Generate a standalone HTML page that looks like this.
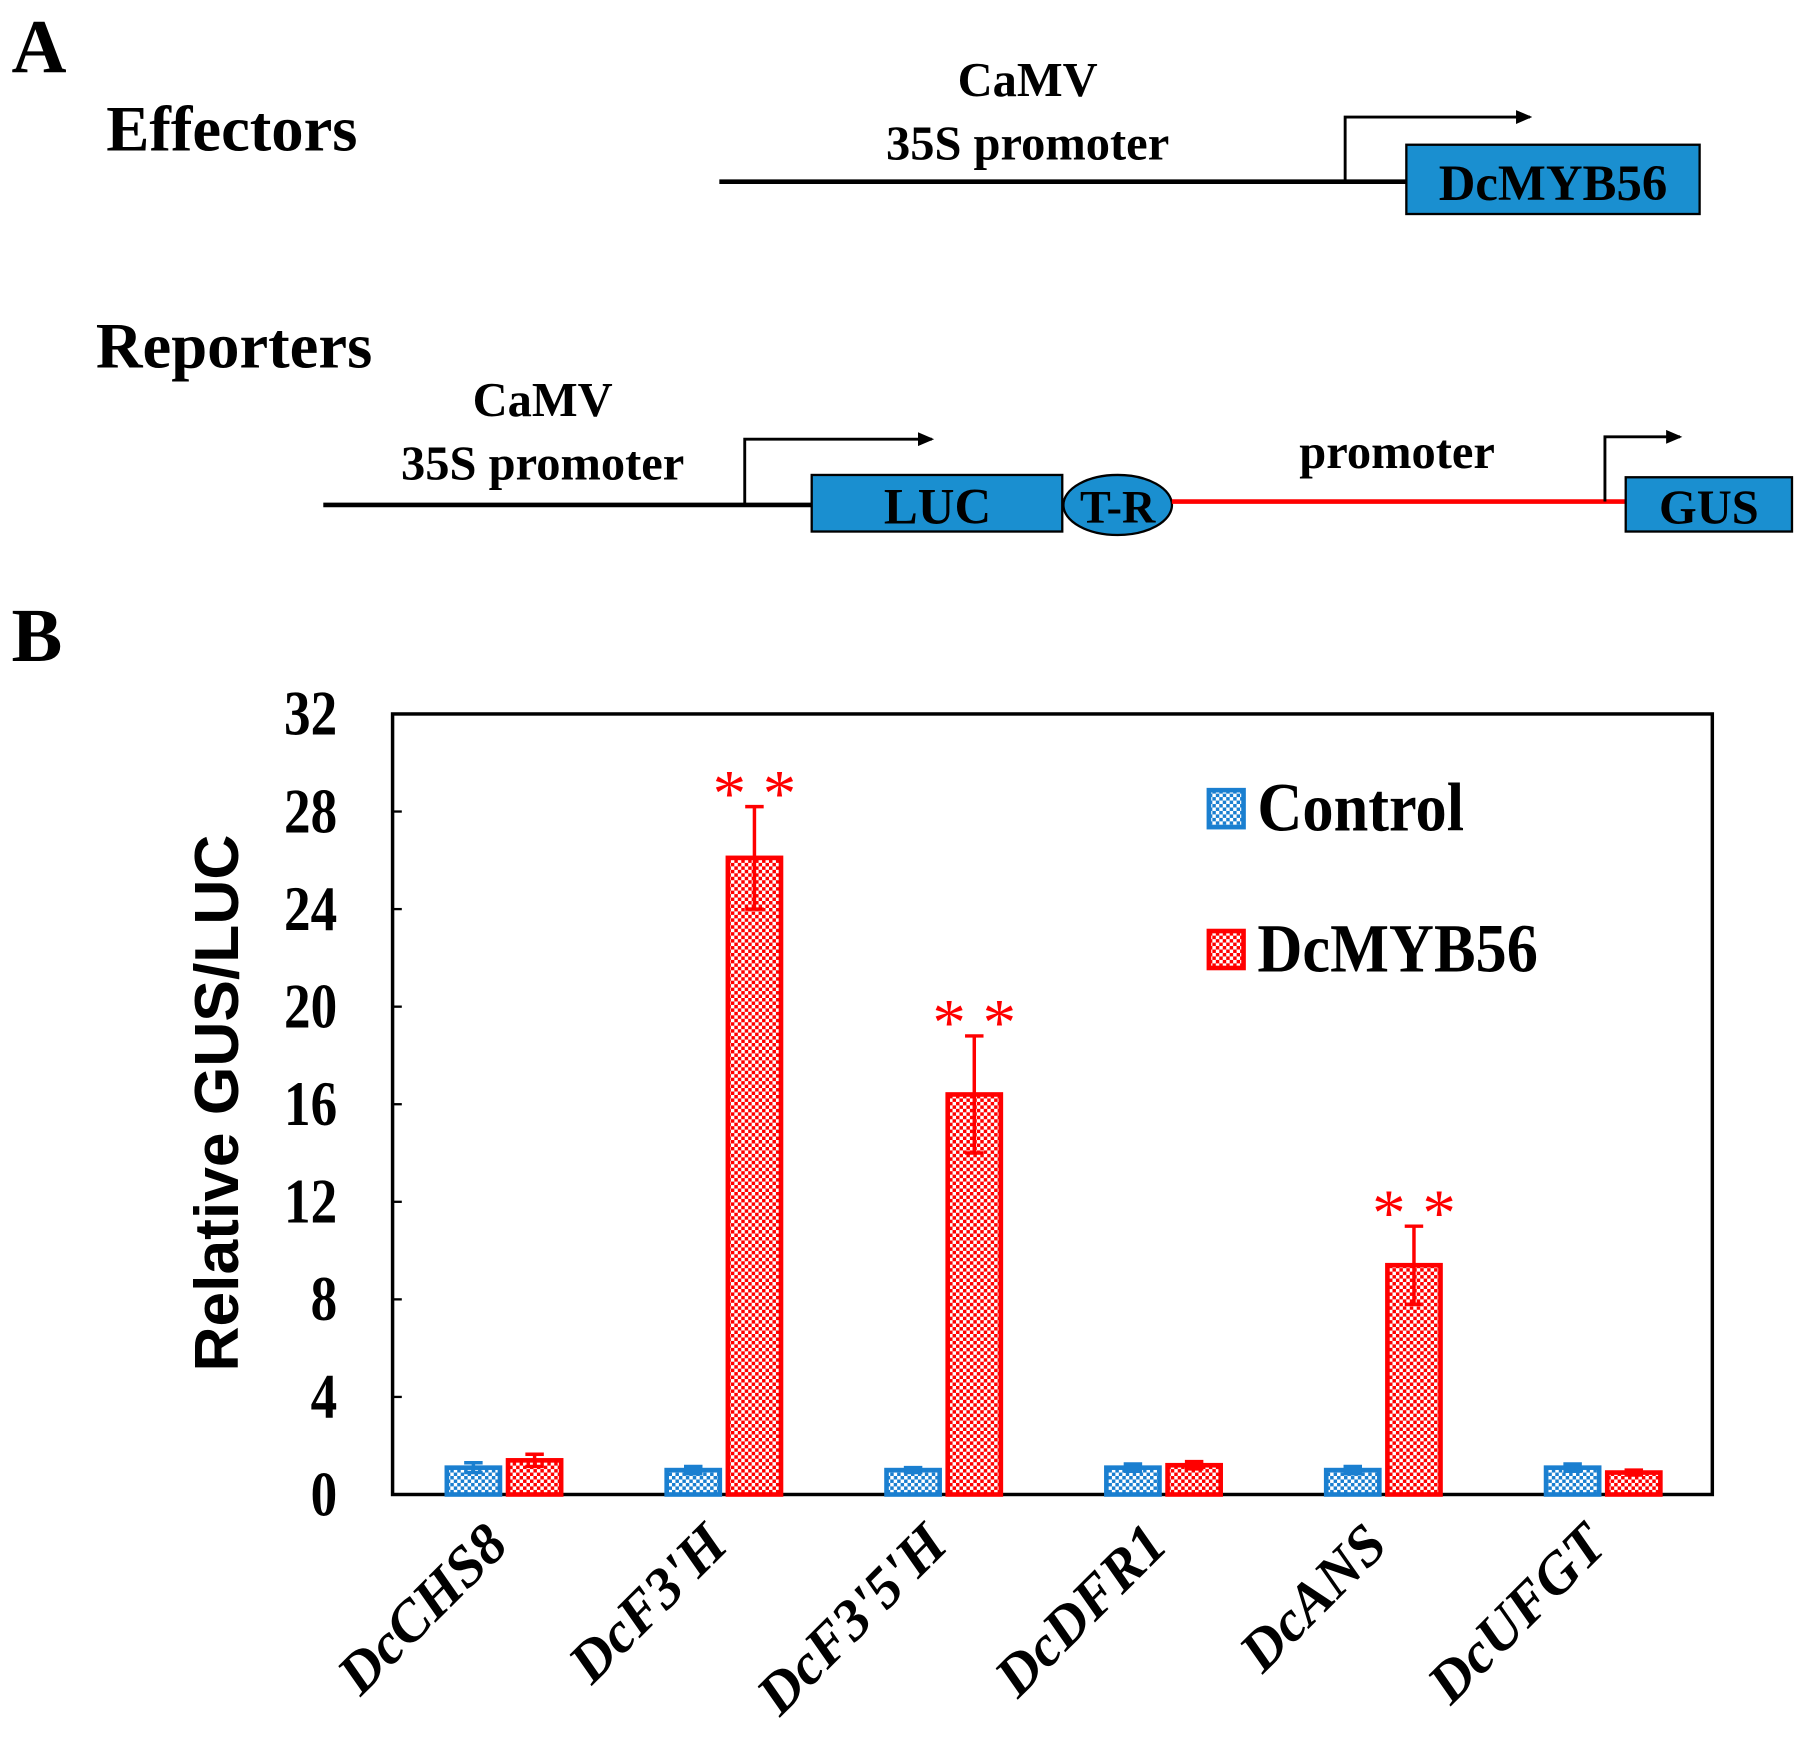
<!DOCTYPE html>
<html><head><meta charset="utf-8"><style>
html,body{margin:0;padding:0;background:#fff;}
svg{display:block;}
text{font-family:"Liberation Serif",serif;font-weight:bold;}
</style></head><body>
<svg id="fig" width="1807" height="1757" viewBox="0 0 1565 1521" xmlns="http://www.w3.org/2000/svg">
<defs>
<pattern id="pb" width="6" height="6" patternUnits="userSpaceOnUse"><rect width="6" height="6" fill="#fff"/><rect x="0" y="0" width="3" height="3" fill="#1a7fd0"/><rect x="3" y="3" width="3" height="3" fill="#1a7fd0"/></pattern>
<pattern id="pr" width="6" height="6" patternUnits="userSpaceOnUse"><rect width="6" height="6" fill="#fff"/><rect x="0" y="0" width="3" height="3" fill="#f00"/><rect x="3" y="3" width="3" height="3" fill="#f00"/></pattern>
<marker id="ah" markerWidth="14" markerHeight="12" refX="12" refY="6" orient="auto" markerUnits="userSpaceOnUse"><path d="M0,0 L14,6 L0,12 z" fill="#000"/></marker>
</defs>
<g>
<text x="10" y="62" font-size="66">A</text>
<text x="92" y="130" font-size="56">Effectors</text>
<text x="890" y="83" font-size="42" text-anchor="middle">CaMV</text>
<text x="890" y="138" font-size="42" text-anchor="middle">35S promoter</text>
<line x1="623" y1="157" x2="1218" y2="157" stroke="#000" stroke-width="4"/>
<path d="M1165,157 V101 H1325" fill="none" stroke="#000" stroke-width="2.5" marker-end="url(#ah)"/>
<rect x="1218" y="125" width="254" height="60" fill="#1a8fd0" stroke="#000" stroke-width="2"/>
<text x="1345" y="173" font-size="44" text-anchor="middle">DcMYB56</text>
<text x="83" y="318" font-size="56">Reporters</text>
<text x="470" y="360" font-size="42" text-anchor="middle">CaMV</text>
<text x="470" y="415" font-size="42" text-anchor="middle">35S promoter</text>
<line x1="280" y1="437" x2="703" y2="437" stroke="#000" stroke-width="4"/>
<path d="M645,437 V380 H807" fill="none" stroke="#000" stroke-width="2.5" marker-end="url(#ah)"/>
<rect x="703" y="411" width="217" height="49" fill="#1a8fd0" stroke="#000" stroke-width="2"/>
<text x="812" y="453" font-size="44" text-anchor="middle">LUC</text>
<ellipse cx="968" cy="437" rx="47" ry="26" fill="#1a8fd0" stroke="#000" stroke-width="2"/>
<text x="968" y="452" font-size="40" text-anchor="middle">T-R</text>
<line x1="1015" y1="434" x2="1408" y2="434" stroke="#f00" stroke-width="4"/>
<text x="1210" y="405" font-size="42" text-anchor="middle">promoter</text>
<path d="M1390,434 V378 H1455" fill="none" stroke="#000" stroke-width="2.5" marker-end="url(#ah)"/>
<rect x="1408" y="413" width="144" height="47" fill="#1a8fd0" stroke="#000" stroke-width="2"/>
<text x="1480" y="453" font-size="42" text-anchor="middle">GUS</text>
</g>
<text x="10" y="572" font-size="66">B</text>
<g id="chart"></g>
</svg>
<script>
const categories=["DcCHS8","DcF3'H","DcF3'5'H","DcDFR1","DcANS","DcUFGT"];
const controlValues=[1.1,1.0,1.0,1.1,1.0,1.1];
const controlErrors=[0.2,0.15,0.1,0.15,0.15,0.15];
const mybValues=[1.4,26.1,16.4,1.2,9.4,0.9];
const mybErrors=[0.25,2.1,2.4,0.15,1.6,0.1];
const significant=[false,true,true,false,true,false];
const yTicks=[0,4,8,12,16,20,24,28,32];
const NS="http://www.w3.org/2000/svg";
const g=document.getElementById('chart');
const X0=340,X1=1483,Y0=1294,Y1=618,YMAX=32;
function yS(v){return Y0-(v/YMAX)*(Y0-Y1);}
function xC(i){return 410+i*190.4;}
function mk(t,a,p){const e=document.createElementNS(NS,t);for(const k in a)e.setAttribute(k,a[k]);(p||g).appendChild(e);return e;}
const frame=mk('rect',{x:X0,y:Y1,width:X1-X0,height:Y0-Y1,fill:'none',stroke:'#000','stroke-width':3});


yTicks.forEach(v=>{
  const t=mk('text',{x:0,y:0,'font-size':46,'text-anchor':'end',transform:`translate(292,${yS(v)+18}) scale(1,1.2)`});t.textContent=v;
  
  
  const l=mk('line',{x1:X0,x2:X0+8,y1:yS(v),y2:yS(v),stroke:'#000','stroke-width':2});
  
  
});
const yt=mk('text',{x:0,y:0,'font-size':54,'text-anchor':'middle',transform:'translate(206,955) rotate(-90)',style:'font-family:"Liberation Sans",sans-serif'});
yt.textContent='Relative GUS/LUC';


const BW=46;
function bar(cx,v,e,fill,col,name){
  const r=mk('rect',{x:cx-BW/2,y:yS(v),width:BW,height:Y0-yS(v),fill:fill,stroke:col,'stroke-width':4});
  
  
  const eb=mk('path',{d:`M${cx},${yS(v-e)} V${yS(v+e)} M${cx-8},${yS(v+e)} H${cx+8} M${cx-8},${yS(v-e)} H${cx+8}`,stroke:col,'stroke-width':3,fill:'none'});
  
  
}
categories.forEach((c,i)=>{
  const cc=xC(i),cr=xC(i)+53;
  bar(cc,controlValues[i],controlErrors[i],'url(#pb)','#1a7fd0','bar-control-'+i);
  bar(cr,mybValues[i],mybErrors[i],'url(#pr)','#f00','bar-dcmyb56-'+i);
  if(significant[i]){
    const s=mk('text',{x:cr,y:yS(mybValues[i]+mybErrors[i])+8,'font-size':58,'text-anchor':'middle',fill:'#f00',style:'font-weight:normal'});
    s.textContent='* *';
    
    
  }
  const lx=cc+32,ly=1340;
  const t=mk('text',{x:0,y:0,'font-size':50,'text-anchor':'end','font-style':'italic',transform:`translate(${lx},${ly}) rotate(-45)`});
  t.textContent=c;
  
  
});
[['Control','url(#pb)','#1a7fd0',700],['DcMYB56','url(#pr)','#f00',822]].forEach((L,k)=>{
  const r=mk('rect',{x:1047,y:L[3]-16,width:30,height:32,fill:L[1],stroke:L[2],'stroke-width':4});
  
  
  const t=mk('text',{x:0,y:0,'font-size':54,transform:`translate(1089,${L[3]+19}) scale(1,1.1)`});t.textContent=L[0];
  
  
});
</script>
</body></html>
